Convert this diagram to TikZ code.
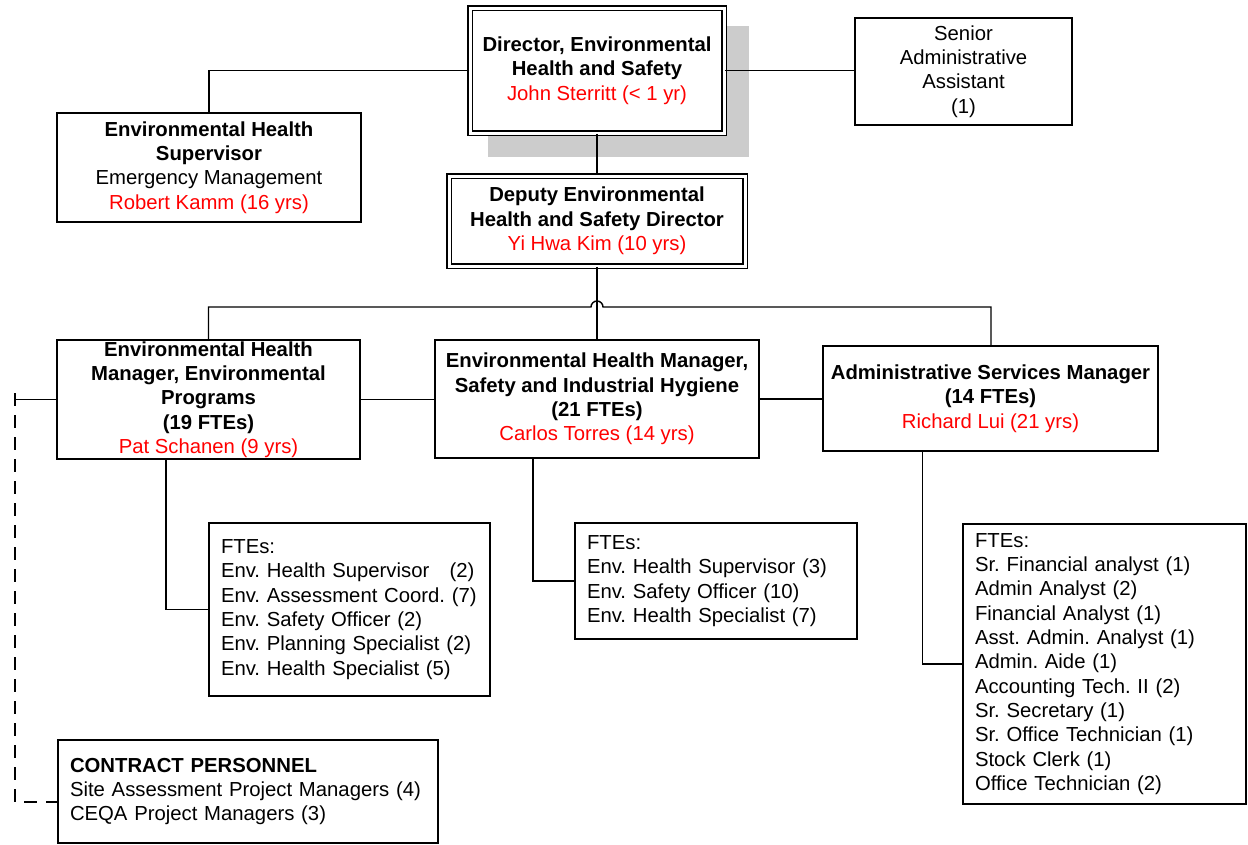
\documentclass[tikz,border=0pt]{standalone}
\usepackage{fontspec}
\setmainfont{Liberation Sans}
\definecolor{nred}{RGB}{255,0,0}
\definecolor{shadowgray}{RGB}{204,204,204}
\begin{document}
\begin{tikzpicture}[x=1pt,y=-1pt,
  every node/.style={font=\fontsize{20.3}{24.3}\selectfont\frenchspacing},
  box/.style={draw, line width=1.4pt, rectangle, inner sep=0pt, align=center},
  dbox/.style={draw, line width=1.5pt, double, double distance=3pt, rectangle, inner sep=0pt, align=center},
  listbox/.style={draw, line width=1.4pt, rectangle, inner xsep=12pt, inner ysep=0pt, align=left},
  conn/.style={line width=1.4pt},
  dconn/.style={line width=1.4pt, dash pattern=on 13pt off 9pt}]
\useasboundingbox (0,0) rectangle (1248,844);
% shadow
\fill[shadowgray] (488,26) rectangle (749,157);
% director
\node[dbox, fill=white, minimum width=254pt, minimum height=125pt] (dir) at (597,70.5)
  {\textbf{Director, Environmental}\\\textbf{Health and Safety}\\\textcolor{nred}{John Sterritt (< 1 yr)}};
\node[box, minimum width=217pt, minimum height=107pt] (senior) at (963.5,71.5)
  {Senior\\Administrative\\Assistant\\(1)};
\node[box, minimum width=304pt, minimum height=109pt] (sup) at (209,167.5)
  {\textbf{Environmental Health}\\\textbf{Supervisor}\\Emergency Management\\\textcolor{nred}{Robert Kamm (16 yrs)}};
\node[dbox, minimum width=296pt, minimum height=90pt] (dep) at (597,221)
  {\textbf{Deputy Environmental}\\\textbf{Health and Safety Director}\\\textcolor{nred}{Yi Hwa Kim (10 yrs)}};
\node[box, minimum width=303pt, minimum height=119pt] (pat) at (208.5,399.5)
  {\textbf{Environmental Health}\\\textbf{Manager, Environmental}\\\textbf{Programs}\\\textbf{(19 FTEs)}\\\textcolor{nred}{Pat Schanen (9 yrs)}};
\node[box, minimum width=324pt, minimum height=118pt] (carlos) at (597,399)
  {\textbf{Environmental Health Manager,}\\\textbf{Safety and Industrial Hygiene}\\\textbf{(21 FTEs)}\\\textcolor{nred}{Carlos Torres (14 yrs)}};
\node[box, minimum width=335pt, minimum height=105pt] (richard) at (990.5,398.5)
  {\textbf{Administrative Services Manager}\\\textbf{(14 FTEs)}\\\textcolor{nred}{Richard Lui (21 yrs)}};
\node[listbox, text width=257pt, minimum height=173pt] (patlist) at (349.5,609.5)
  {FTEs:\\Env. Health Supervisor\ \ \ (2)\\Env. Assessment Coord. (7)\\Env. Safety Officer (2)\\Env. Planning Specialist (2)\\Env. Health Specialist (5)};
\node[listbox, text width=258pt, minimum height=116pt] (clist) at (716,581)
  {FTEs:\\Env. Health Supervisor (3)\\Env. Safety Officer (10)\\Env. Health Specialist (7)};
\node[listbox, text width=259pt, minimum height=280pt] (rlist) at (1104.5,664)
  {FTEs:\\Sr. Financial analyst (1)\\Admin Analyst (2)\\Financial Analyst (1)\\Asst. Admin. Analyst (1)\\Admin. Aide (1)\\Accounting Tech. II (2)\\Sr. Secretary (1)\\Sr. Office Technician (1)\\Stock Clerk (1)\\Office Technician (2)};
\node[listbox, text width=356pt, minimum height=103pt] (contract) at (248,791.5)
  {\textbf{CONTRACT PERSONNEL}\\Site Assessment Project Managers (4)\\CEQA Project Managers (3)};
% connectors
\draw[conn] (dir.west) -| (sup.north);
\draw[conn] (dir.east) -- (dir.east -| senior.west);
\draw[conn] (dir.south) -- (dep.north);
\coordinate (busL) at (208.5,307);
\coordinate (busR) at (991,307);
\coordinate (hopL) at (591,307);
\draw[conn] (pat.north) -- (busL) -- (hopL) arc[start angle=180, end angle=0, radius=6pt] -- (busR) -- (busR |- richard.north);
\draw[conn] (dep.south) -- (carlos.north);
\draw[conn] (pat.east) -- (pat.east -| carlos.west);
\draw[conn] (carlos.east) -- (carlos.east -| richard.west);
\draw[conn] ([xshift=-42.5pt]pat.south) |- (patlist.west);
\draw[conn] ([xshift=-64pt]carlos.south) |- (clist.west);
\draw[conn] ([xshift=-68pt]richard.south) |- (rlist.west);
\coordinate (tick) at (15,399.5);
\coordinate (tickTop) at (15,393);
\coordinate (corner) at (15,802);
\draw[conn] (pat.west) -- (tick);
\draw[dconn] (tickTop) -- (corner) -- (corner -| contract.west);
\end{tikzpicture}
\end{document}
